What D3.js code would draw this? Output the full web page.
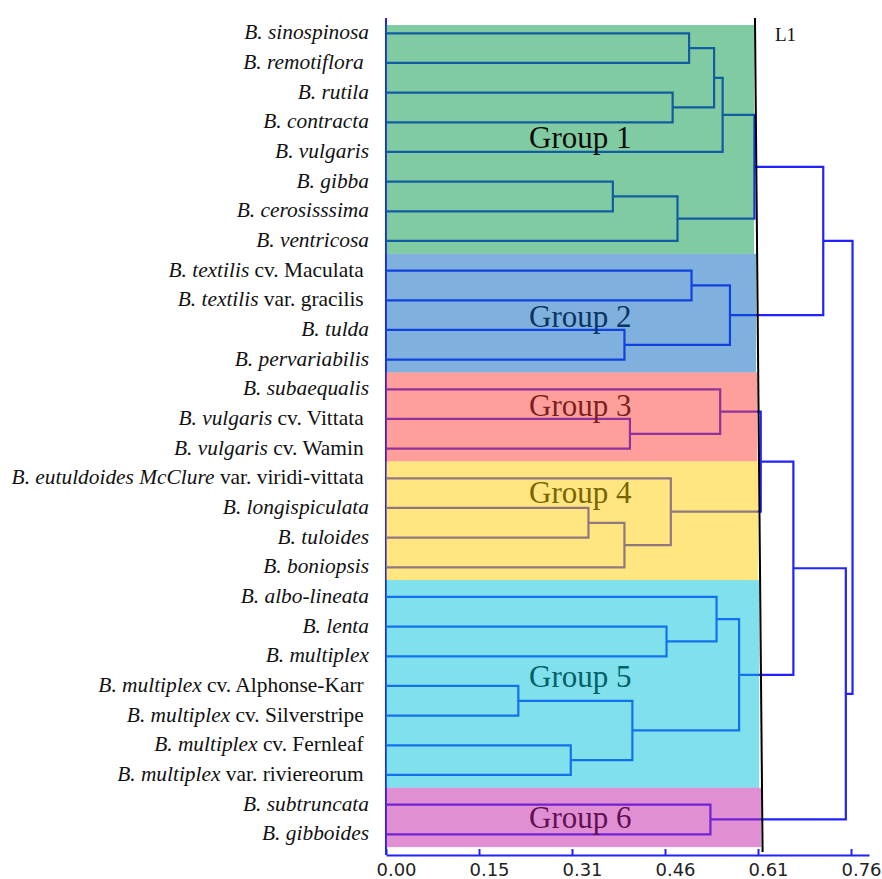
<!DOCTYPE html>
<html>
<head>
<meta charset="utf-8">
<script src="https://cdn.jsdelivr.net/npm/d3@7"></script>
<style>
  body { margin: 0; background: #fff; }
  svg { display: block; }
  .leaf { font-family: "Liberation Serif", "Times New Roman", serif; font-size: 21.4px; fill: #111; white-space: pre; }
  .group-label { font-family: "Liberation Serif", "Times New Roman", serif; font-size: 31px; }
  .tick text { font-family: "DejaVu Sans", sans-serif; font-size: 18px; fill: #222; }
</style>
</head>
<body>
<div id="chart"></div>
<script>
// leaf names: italic part + plain part
const leafItalic = [
  "B. sinospinosa", "B. remotiflora ", "B. rutila", "B. contracta", "B. vulgaris",
  "B. gibba", "B. cerosisssima", "B. ventricosa",
  "B. textilis", "B. textilis", "B. tulda", "B. pervariabilis",
  "B. subaequalis", "B. vulgaris", "B. vulgaris",
  "B. eutuldoides McClure", "B. longispiculata", "B. tuloides", "B. boniopsis",
  "B. albo-lineata", "B. lenta", "B. multiplex", "B. multiplex", "B. multiplex",
  "B. multiplex", "B. multiplex",
  "B. subtruncata", "B. gibboides"
];
const leafPlain = [
  "", "", "", "", "", "", "", "",
  " cv. Maculata ", " var. gracilis ", "", "",
  "", " cv. Vittata ", " cv. Wamin ",
  " var. viridi-vittata ", "", "", "",
  "", "", "", " cv. Alphonse-Karr ", " cv. Silverstripe ",
  " cv. Fernleaf ", " var. riviereorum ",
  "", ""
];

// merges: [childA, childB, height]; ids from 28 up are earlier merges
const merges = [
  [0, 1, 0.497], [2, 3, 0.470], [28, 29, 0.538], [30, 4, 0.552],
  [5, 6, 0.372], [32, 7, 0.478], [31, 33, 0.604],
  [8, 9, 0.501], [10, 11, 0.391], [35, 36, 0.564],
  [34, 37, 0.717],
  [13, 14, 0.400], [12, 39, 0.548],
  [16, 17, 0.332], [41, 18, 0.391], [15, 42, 0.467],
  [40, 43, 0.6145],
  [20, 21, 0.460], [19, 45, 0.542], [22, 23, 0.217], [24, 25, 0.303],
  [47, 48, 0.404], [46, 49, 0.579],
  [44, 50, 0.668],
  [26, 27, 0.532],
  [51, 52, 0.754],
  [38, 53, 0.765]
];

const groupNames = ["Group 1", "Group 2", "Group 3", "Group 4", "Group 5", "Group 6"];
const groupFirst = [0, 8, 12, 15, 19, 26];
const groupLast = [7, 11, 14, 18, 25, 27];

const tickLabels = ["0.00", "0.15", "0.31", "0.46", "0.61", "0.76"];
const tickStep = 0.1525;
const cutLabel = "L1";
const cutTop = 0.605, cutBottom = 0.6175;

// styles
const lineBlue = "#2222ff";
const groupFill = ["#019743", "#0061bd", "#ff3f37", "#ffcd01", "#01c1d9", "#c11fa7"];
const groupText = ["#0b0b0b", "#0a3563", "#7d1f1c", "#7a6400", "#006068", "#611053"];
const labelRows = [3.87, 9.9, 12.89, 15.83, 22.02, 26.78];

const width = 882, height = 879;
const svg = d3.select("#chart").append("svg")
  .attr("width", width).attr("height", height);

const n = leafItalic.length;
const x = d3.scaleLinear().domain([0, 0.792]).range([386, 869]);
const y = d3.scalePoint().domain(d3.range(n)).range([33.3, 834.3]);
const step = y.step();
const axisY = 855, topY = 18;

// node positions
const nodeY = d3.range(n).map(i => y(i));
const nodeH = d3.range(n).map(() => 0);
merges.forEach(([a, b, h]) => {
  nodeY.push((nodeY[a] + nodeY[b]) / 2);
  nodeH.push(h);
});

// left vertical axis line
svg.append("line")
  .attr("x1", x(0)).attr("x2", x(0))
  .attr("y1", topY).attr("y2", axisY)
  .attr("stroke", lineBlue).attr("stroke-width", 2);

// dendrogram links
const links = svg.append("g").attr("fill", "none")
  .attr("stroke", lineBlue).attr("stroke-width", 2.2);
merges.forEach(([a, b, h]) => {
  const p = d3.path();
  p.moveTo(x(nodeH[a]), nodeY[a]);
  p.lineTo(x(h), nodeY[a]);
  p.lineTo(x(h), nodeY[b]);
  p.lineTo(x(nodeH[b]), nodeY[b]);
  links.append("path").attr("d", p.toString());
});

// cut line position at a given y
const cutX = yy => x(cutTop + (cutBottom - cutTop) * (yy - topY) / (852 - topY));

// group boxes (semi transparent over the links)
let prevBottom = y(0) - 8.3;
const boxes = svg.append("g");
groupNames.forEach((name, g) => {
  const top = prevBottom;
  const bottom = y(groupLast[g]) + 12.8;
  prevBottom = bottom;
  boxes.append("rect")
    .attr("x", x(0))
    .attr("y", top)
    .attr("width", cutX(top) - 1 - x(0))
    .attr("height", bottom - top)
    .attr("fill", groupFill[g])
    .attr("fill-opacity", 0.5);
});

// x axis
const tickVals = tickLabels.map((_, i) => i * tickStep);
const axis = d3.axisBottom(x)
  .tickValues(tickVals)
  .tickFormat((d, i) => tickLabels[i])
  .tickSizeInner(-6)
  .tickSizeOuter(0)
  .tickPadding(8);
const ax = svg.append("g").attr("transform", `translate(0,${axisY})`).call(axis);
ax.select(".domain").attr("stroke", lineBlue).attr("stroke-width", 2);
ax.selectAll(".tick line").attr("stroke", lineBlue).attr("stroke-width", 2);
ax.selectAll(".tick text").attr("dx", 10);

// cut line
svg.append("line")
  .attr("x1", cutX(topY)).attr("y1", topY)
  .attr("x2", cutX(852)).attr("y2", 852)
  .attr("stroke", "#000").attr("stroke-width", 2);
svg.append("text")
  .attr("x", cutX(topY) + 20).attr("y", 41)
  .attr("font-family", "Liberation Serif, serif")
  .attr("font-size", 19)
  .attr("fill", "#111")
  .text(cutLabel);

// group labels
svg.append("g").selectAll("text")
  .data(groupNames)
  .join("text")
  .attr("class", "group-label")
  .attr("x", 529)
  .attr("y", (d, i) => y(0) + labelRows[i] * step)
  .attr("fill", (d, i) => groupText[i])
  .text(d => d);

// leaf labels
const leafG = svg.append("g");
leafItalic.forEach((it, i) => {
  const t = leafG.append("text")
    .attr("class", "leaf")
    .attr("x", 369)
    .attr("y", y(i) + 6)
    .attr("text-anchor", "end");
  t.append("tspan").attr("font-style", "italic").text(it);
  if (leafPlain[i]) t.append("tspan").text(leafPlain[i]);
});
</script>
</body>
</html>
